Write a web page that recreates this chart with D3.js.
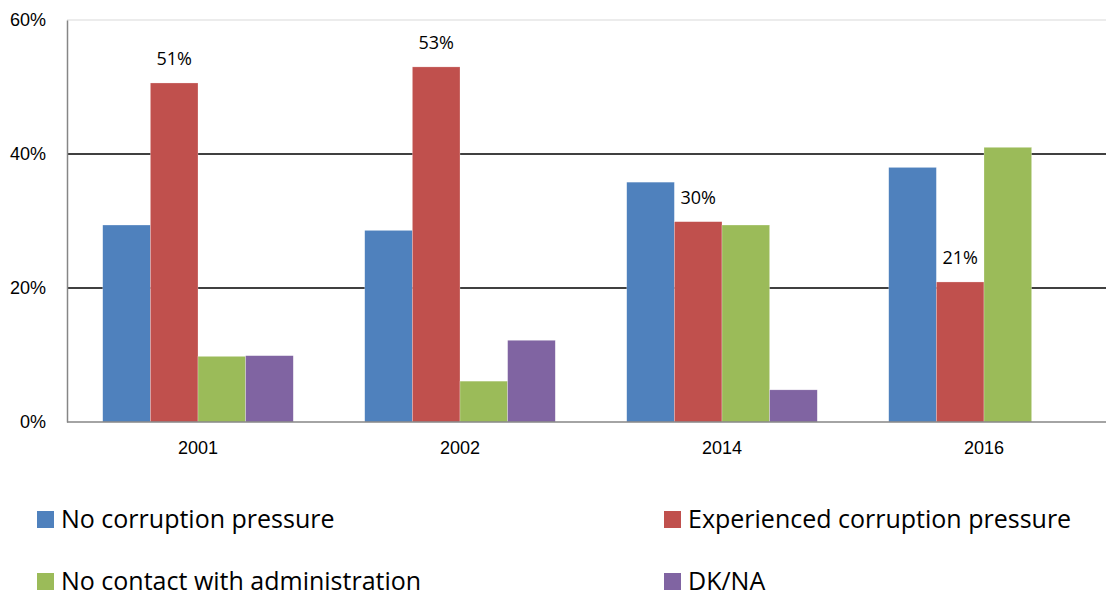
<!DOCTYPE html>
<html>
<head>
<meta charset="utf-8">
<script src="https://cdn.jsdelivr.net/npm/d3@7"></script>
<style>
  body { margin: 0; background: #fff; }
  svg { display: block; font-family: "Open Sans", "Noto Sans", sans-serif; }
</style>
</head>
<body>
<div id="chart"></div>
<script>
// data (shares of respondents)
var years = ["2001", "2002", "2014", "2016"];
var series = ["No corruption pressure", "Experienced corruption pressure",
              "No contact with administration", "DK/NA"];
var colors = ["#4F81BD", "#C0504D", "#9BBB59", "#8064A2"];

var noPressure  = [0.294, 0.286, 0.358, 0.380];
var experienced = [0.506, 0.530, 0.299, 0.209];
var noContact   = [0.098, 0.061, 0.294, 0.410];
var dkna        = [0.099, 0.122, 0.048, null];

var yTicks = [0, 0.2, 0.4, 0.6];

var values = [noPressure, experienced, noContact, dkna];
var labelled = "Experienced corruption pressure";

var width = 1106, height = 596;

var svg = d3.select("#chart").append("svg")
  .attr("width", width)
  .attr("height", height);

var x0 = d3.scaleBand().domain(years).range([67, 1115]);
var x1 = d3.scaleBand().domain(series).range([0, x0.bandwidth()]).paddingOuter(0.75);
var y = d3.scaleLinear().domain([0, 0.6]).range([422, 20]);
var pct = d3.format(".0%");

// gridlines
svg.append("g").selectAll("line")
  .data(yTicks.filter(t => t > 0))
  .enter().append("line")
  .attr("x1", 67).attr("x2", width)
  .attr("y1", d => y(d)).attr("y2", d => y(d))
  .attr("stroke", d => d === 0.6 ? "#d9d9d9" : "#000")
  .attr("stroke-width", d => d === 0.6 ? 1 : 1.6);

// bars
var rows = [];
years.forEach((yr, i) => {
  series.forEach((s, j) => {
    if (values[j][i] != null) rows.push({year: yr, series: s, value: values[j][i], color: colors[j]});
  });
});

svg.append("g").selectAll("rect")
  .data(rows)
  .enter().append("rect")
  .attr("x", d => x0(d.year) + x1(d.series))
  .attr("width", x1.bandwidth())
  .attr("y", d => y(d.value))
  .attr("height", d => y(0) - y(d.value))
  .attr("fill", d => d.color)
  .attr("stroke", "#fff")
  .attr("stroke-opacity", 0.5)
  .attr("stroke-width", 0.5);

// data labels on the red series
svg.append("g").selectAll("text")
  .data(rows.filter(d => d.series === labelled))
  .enter().append("text")
  .attr("x", d => x0(d.year) + x1(d.series) + x1.bandwidth() / 2)
  .attr("y", d => y(d.value) - 17.5)
  .attr("text-anchor", "middle")
  .style("font-size", "18px")
  .attr("fill", "#000")
  .text(d => pct(d.value));

// axes
var yAxis = d3.axisLeft(y).tickValues(yTicks).tickFormat(pct).tickSize(0).tickPadding(21);
var gy = svg.append("g").attr("transform", "translate(67,0)").call(yAxis);
gy.select(".domain").attr("stroke", "#868686").attr("stroke-width", 1.5);
gy.selectAll("text").style("font-size", "18px").attr("fill", "#000").attr("font-family", null);

var xAxis = d3.axisBottom(x0).tickSize(0).tickPadding(19);
var gx = svg.append("g").attr("transform", "translate(0,422)").call(xAxis);
gx.select(".domain").attr("d", "M67,0H" + width).attr("stroke", "#868686").attr("stroke-width", 1.5);
gx.selectAll("text").style("font-size", "18px").attr("fill", "#000").attr("font-family", null);

// legend
var legendX = [37, 664], legendY = [511, 573];
var legend = svg.append("g").selectAll("g")
  .data(series)
  .enter().append("g")
  .attr("transform", (d, i) => "translate(" + legendX[i % 2] + "," + legendY[Math.floor(i / 2)] + ")");

legend.append("rect")
  .attr("width", 17).attr("height", 17)
  .attr("fill", (d, i) => colors[i]);

legend.append("text")
  .attr("x", 24)
  .attr("y", 17)
  .style("font-size", "25px")
  .attr("fill", "#000")
  .text(d => d);
</script>
</body>
</html>
